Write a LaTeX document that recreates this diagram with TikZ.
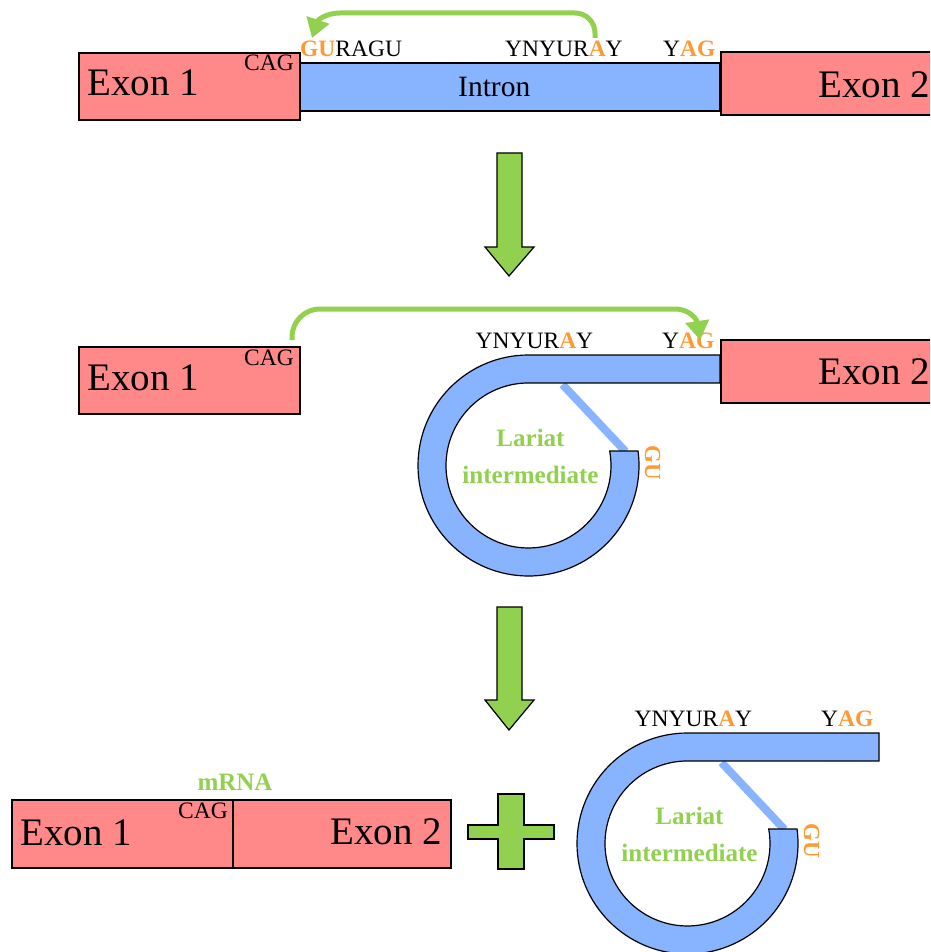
\documentclass[tikz,border=0pt]{standalone}
\usepackage{fontspec}
\setmainfont{Liberation Serif}
\usetikzlibrary{arrows.meta}

\definecolor{exonred}{HTML}{FF8888}
\definecolor{intronblue}{HTML}{88B3FF}
\definecolor{leafgreen}{HTML}{92D050}
\definecolor{siteorange}{HTML}{FF9933}

% splice-site letters
\newcommand{\site}[1]{\textcolor{siteorange}{\textbf{#1}}}

\tikzset{
  exon/.style={draw=black, fill=exonred, line width=1.2pt},
  band/.style={draw=black, fill=intronblue, line width=1.2pt},
  bigtext/.style={font=\fontsize{39}{40}\selectfont, inner sep=0pt},
  midtext/.style={font=\fontsize{29.5}{31}\selectfont, inner sep=0pt},
  seqtext/.style={font=\fontsize{23.5}{25}\selectfont, inner sep=0pt},
  greentext/.style={font=\fontsize{25}{27}\selectfont\bfseries, text=leafgreen, inner sep=0pt},
  flow/.style={draw=leafgreen, line width=5pt, -{Triangle[length=19pt,width=23pt,fill=leafgreen]}},
  blockarrow/.style={draw=black, fill=leafgreen, line width=1.2pt, line join=miter},
  lariat/.pic={
    % branch-point bond
    \draw[intronblue, line width=8pt] (34,-81) -- (97,-14);
    % looped intron
    \path[band] (191.5,-110.5) -- (0,-110.5)
      arc[start angle=-90, end angle=-367.5, radius=110.5]
      -- (81.2,-14.5)
      arc[start angle=-370.1, end angle=-90, radius=82.5]
      -- (191.5,-82.5) -- cycle;
    \node[seqtext, anchor=base west] (-yn) at (-53,-117) {YNYUR\site{A}Y};
    \node[seqtext, anchor=base west] (-yag) at (133.5,-117) {Y\site{AG}};
    \node[greentext, anchor=base] (-lar) at (2,-18.8) {Lariat};
    \node[greentext, anchor=base] (-int) at (2,17.5) {intermediate};
    \node[seqtext, font=\fontsize{23}{25}\selectfont\bfseries, text=siteorange,
          rotate=-90, anchor=center] (-gu) at (124,-3) {GU};
  }
}

\begin{document}
\begin{tikzpicture}[x=1pt, y=-1pt]
\clip (0,0) rectangle (930,952);
\fill[white] (0,0) rectangle (930,952);

% ---------- pre-mRNA ----------
\draw[band] (300,63) rectangle (720,111);
\draw[exon] (79,53) rectangle (300,120);
\draw[exon] (721,52) rectangle (960,115);
\node[bigtext, anchor=base west] (ex1a) at (87,96) {Exon 1};
\node[bigtext, anchor=base west] (ex2a) at (818,98) {Exon 2};
\node[midtext, anchor=base west] (intron) at (458,97) {Intron};
\node[seqtext, anchor=base west] (caga) at (244,71) {CAG};
\node[seqtext, anchor=base west] (gua) at (300,57) {\site{GU}RAGU};
\node[seqtext, anchor=base west] (yna) at (505,57) {YNYUR\site{A}Y};
\node[seqtext, anchor=base west] (yaga) at (663,57) {Y\site{AG}};

\coordinate (branchA) at (595,38);
\coordinate (fiveGU) at (312,38);
\draw[flow] (branchA) -- ++(0,-5)
  arc[start angle=0, end angle=-90, radius=20]
  -- (340,13) .. controls (326,13) and (318,20) .. (fiveGU);

% first step arrow
\draw[blockarrow] (497,153) -- (522,153) -- (522,247) -- (534,247)
  -- (509,276) -- (485,247) -- (497,247) -- cycle;

% ---------- lariat intermediate ----------
\pic (mid) at (528.5,465.5) {lariat};
\draw[exon] (79,347) rectangle (300,414);
\draw[exon] (721,340) rectangle (960,403);
\node[bigtext, anchor=base west] (ex1b) at (87,390) {Exon 1};
\node[bigtext, anchor=base west] (ex2b) at (818,384) {Exon 2};
\node[seqtext, anchor=base west] (cagb) at (244,365) {CAG};

\coordinate (exonEnd) at (292,340);
\coordinate (threeAG) at (700,340);
\draw[flow] (exonEnd) -- ++(0,-3)
  arc[start angle=180, end angle=270, radius=28]
  -- (675,309) .. controls (690,309) and (697,320) .. (threeAG);

% second step arrow
\draw[blockarrow] (497,607) -- (522,607) -- (522,700) -- (534,700)
  -- (509,730) -- (485,700) -- (497,700) -- cycle;

% ---------- products ----------
\draw[exon] (12,800) rectangle (233,868);
\draw[exon] (233,800) rectangle (451,868);
\node[bigtext, anchor=base west] (ex1c) at (20,845) {Exon 1};
\node[bigtext, anchor=base east] (ex2c) at (442,844) {Exon 2};
\node[seqtext, anchor=base west] (cagc) at (178,818) {CAG};
\node[greentext, anchor=base] (mrna) at (235,790) {mRNA};

\draw[blockarrow] (498,794) -- (524,794) -- (524,825) -- (554,825)
  -- (554,839) -- (524,839) -- (524,869) -- (498,869) -- (498,839)
  -- (468,839) -- (468,825) -- (498,825) -- cycle;

\pic (out) at (687.5,843.5) {lariat};
\end{tikzpicture}
\end{document}
